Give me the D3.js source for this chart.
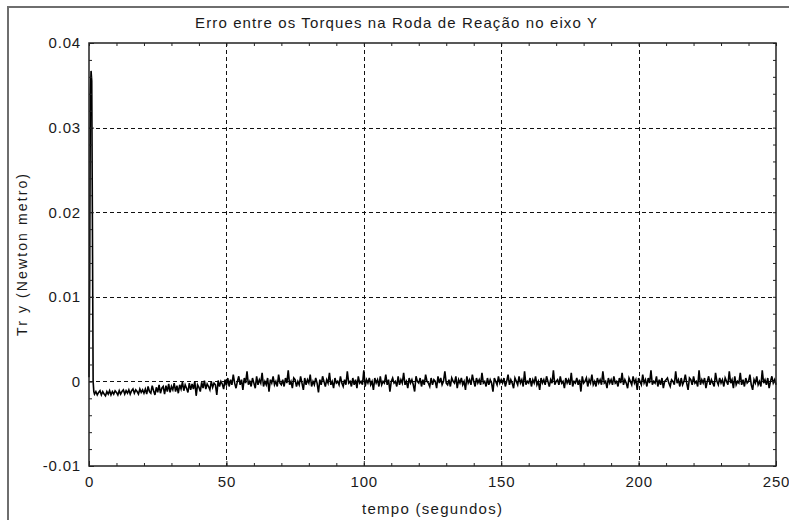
<!DOCTYPE html>
<html>
<head>
<meta charset="utf-8">
<script src="https://cdn.jsdelivr.net/npm/d3@7"></script>
<style>
  html, body { margin: 0; padding: 0; background: #fff; }
  svg { display: block; }
  text { font-family: "Liberation Sans", Arial, sans-serif; fill: #1a1a1a; }
</style>
</head>
<body>
<svg id="chart" width="789" height="520"></svg>
<script>
// ---------------- data ----------------
const title = "Erro entre os Torques na Roda de Reação no eixo Y";
const xLabel = "tempo (segundos)";
const yLabel = "Tr y (Newton metro)";

const xTicks = [0, 50, 100, 150, 200, 250];
const yTicks = [-0.01, 0, 0.01, 0.02, 0.03, 0.04];
const yTickLabels = ["-0.01", "0", "0.01", "0.02", "0.03", "0.04"];
const xGrid = [50, 100, 150, 200];
const yGrid = [0, 0.01, 0.02, 0.03];

// initial transient (seconds, N·m)
const spikeTime = [0, 0.25, 0.5, 0.75, 1.0, 1.25, 1.5, 1.75];
const spikeVal  = [0.0005, 0.012, 0.034, 0.0367, 0.0355, 0.018, 0.0, -0.0012];

// sampled error after transient, in units of 1e-4 N·m, evenly spaced from noiseStart to noiseEnd
const noiseStart = 2, noiseEnd = 250;
const noiseVals = [
  // 2 - 20 s
  -15,-12,-16,-13,-11,-16,-12,-15,-17,-12,-15,-11,-16,-12,-15,-11,-13,-16,-11,-15,-12,-10,-15,-11,-14,-10,-15,-11,-9,-14,-10,-12,-15,-9,-13,-10,-14,
  // 20 - 50 s
  -9,-15,-6,-12,-14,-5,-11,-16,-7,-13,-4,-14,-8,-6,-15,-5,-12,-3,-13,-6,-10,-2,-12,-5,-14,-4,-9,-1,-11,-4,-8,-13,-2,-10,-3,-9,0,-17,-4,-7,-12,-1,-8,1,-9,-3,-6,-10,0,-7,-2,-4,-16,1,-6,0,-3,-9,2,-5,
  // 50 - 250 s
  4,-6,2,-4,8,-2,-8,0,6,-4,2,-10,4,-2,12,-4,0,-6,4,-2,-8,6,-4,2,-2,10,-6,0,-4,4,-12,2,-2,6,-4,0,-6,8,-2,-4,
  2,-6,4,-2,13,-4,0,-8,4,2,-6,0,-4,6,-2,-10,4,-4,2,-2,8,-6,0,-4,4,-2,-13,2,-4,6,0,-6,2,-2,10,-4,0,-8,4,-2,
  0,-4,6,-2,-6,2,-4,12,-2,0,-6,4,-4,2,-8,6,-2,0,-4,13,-6,2,-2,4,-4,0,-10,4,-2,2,-6,6,-4,0,-2,8,-4,2,-12,0,
  4,-2,0,-6,6,-4,2,-2,10,-4,0,-8,4,-2,2,-4,-12,6,0,-2,4,-6,2,-4,8,0,-2,-6,4,-4,2,0,-8,6,-2,4,-4,0,12,-2,
  -4,2,-6,4,0,-2,6,-8,2,-2,4,-4,0,-10,6,-2,2,-4,8,0,-6,4,-2,2,-4,10,-2,0,-6,4,-4,2,-2,-12,4,0,-4,6,-2,2,
  -2,4,-6,0,8,-4,2,-2,-8,4,0,-4,6,-2,2,-6,12,-4,0,-2,4,-6,2,-2,6,-4,0,-10,4,-2,2,-4,6,0,-6,2,-2,13,-4,0,
  2,-4,6,-2,0,-8,4,-2,2,-4,10,-6,0,-2,4,-4,2,-12,6,-2,0,4,-6,2,-2,8,-4,0,-6,4,-2,2,-4,12,-2,0,-8,4,-2,2,
  -4,6,-2,0,-6,4,-2,10,-4,2,-2,-8,4,0,-4,6,-2,2,-10,4,0,-4,8,-2,2,-6,4,-2,13,-4,0,-2,6,-6,2,-4,4,-8,0,2,
  4,-2,-6,2,0,-4,12,-2,2,-6,4,-4,0,8,-2,-10,4,2,-4,6,-2,0,-6,13,-4,2,-2,4,-8,0,6,-4,2,-2,-6,10,0,-4,4,-2,
  2,-6,4,0,-4,12,-2,2,-8,6,-4,0,-2,10,-4,2,-6,4,-2,0,8,-4,-10,2,-2,6,-4,0,-6,13,-2,2,-4,4,-8,0,6,-2,2,-4
];
const noiseUnit = 1e-4;

// ---------------- layout ----------------
const svg = d3.select("#chart");
const L = 89, R = 776, T = 43, B = 466;

const x = d3.scaleLinear().domain([0, 250]).range([L, R]);
const y = d3.scaleLinear().domain([-0.01, 0.04]).range([B, T]);

// window frame lines
svg.append("line").attr("x1", 8).attr("x2", 789).attr("y1", 7).attr("y2", 7)
  .attr("stroke", "#6e6e6e").attr("stroke-width", 2);
svg.append("line").attr("x1", 8).attr("x2", 8).attr("y1", 6).attr("y2", 520)
  .attr("stroke", "#6e6e6e").attr("stroke-width", 2);

// grid
const grid = svg.append("g").attr("stroke", "#111").attr("stroke-width", 1)
  .attr("stroke-dasharray", "4,3");
grid.selectAll(".gx").data(xGrid).join("line")
  .attr("x1", d => Math.round(x(d)) + 0.5).attr("x2", d => Math.round(x(d)) + 0.5)
  .attr("y1", T).attr("y2", B);
grid.selectAll(".gy").data(yGrid).join("line")
  .attr("y1", d => Math.round(y(d)) + 0.5).attr("y2", d => Math.round(y(d)) + 0.5)
  .attr("x1", L).attr("x2", R);

// data series
const pts = spikeTime.map((t, i) => [t, spikeVal[i]]);
const n = noiseVals.length;
noiseVals.forEach((v, i) => {
  pts.push([noiseStart + (noiseEnd - noiseStart) * i / (n - 1), v * noiseUnit]);
});
const line = d3.line().x(d => x(d[0])).y(d => y(d[1]));
svg.append("path").datum(pts).attr("d", line)
  .attr("fill", "none").attr("stroke", "#000").attr("stroke-width", 1.6)
  .attr("stroke-linejoin", "miter");

// axes with inward ticks
const fontSize = 15;
const minorX = d3.range(0, 251, 10);
const minorY = d3.range(-0.01, 0.0401, 0.002);

const gBottom = svg.append("g").attr("transform", `translate(0,${B})`)
  .call(d3.axisBottom(x).tickValues(xTicks).tickSizeInner(-5).tickSizeOuter(0).tickPadding(10));
const gLeft = svg.append("g").attr("transform", `translate(${L},0)`)
  .call(d3.axisLeft(y).tickValues(yTicks).tickFormat((d, i) => yTickLabels[i])
    .tickSizeInner(-5).tickSizeOuter(0).tickPadding(8));
const gTop = svg.append("g").attr("transform", `translate(0,${T})`)
  .call(d3.axisTop(x).tickValues(minorX).tickSizeInner(-3).tickSizeOuter(0).tickFormat(""));
const gRight = svg.append("g").attr("transform", `translate(${R},0)`)
  .call(d3.axisRight(y).tickValues(minorY).tickSizeInner(-3).tickSizeOuter(0).tickFormat(""));
const gBottomMinor = svg.append("g").attr("transform", `translate(0,${B})`)
  .call(d3.axisBottom(x).tickValues(minorX).tickSizeInner(-3).tickSizeOuter(0).tickFormat(""));
const gLeftMinor = svg.append("g").attr("transform", `translate(${L},0)`)
  .call(d3.axisLeft(y).tickValues(minorY).tickSizeInner(-3).tickSizeOuter(0).tickFormat(""));

[gBottom, gLeft, gTop, gRight, gBottomMinor, gLeftMinor].forEach(g => {
  g.select(".domain").remove();
  g.selectAll("line").attr("stroke", "#222");
  g.selectAll("text").attr("font-size", fontSize).attr("fill", "#1a1a1a")
    .style("letter-spacing", "0.8px").attr("font-family", "Liberation Sans, Arial, sans-serif");
});

// plot frame
svg.append("rect").attr("x", L).attr("y", T).attr("width", R - L).attr("height", B - T)
  .attr("fill", "none").attr("stroke", "#222").attr("stroke-width", 1.5);

// title and labels
svg.append("text").attr("x", 396).attr("y", 28).attr("text-anchor", "middle")
  .attr("font-size", 15).attr("textLength", 402).attr("lengthAdjust", "spacing")
  .text(title);
svg.append("text").attr("x", 432).attr("y", 514).attr("text-anchor", "middle")
  .attr("font-size", 15).attr("textLength", 140).attr("lengthAdjust", "spacing")
  .text(xLabel);
svg.append("text").attr("transform", "translate(27,255) rotate(-90)").attr("text-anchor", "middle")
  .attr("font-size", 14).attr("textLength", 162).attr("lengthAdjust", "spacing")
  .text(yLabel);
</script>
</body>
</html>
